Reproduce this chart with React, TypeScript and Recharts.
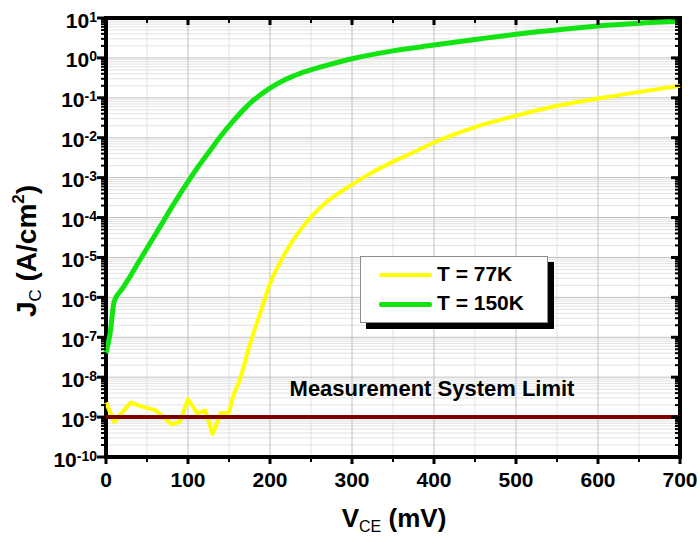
import React from 'react';
import {
  LineChart,
  Line,
  XAxis,
  YAxis,
  CartesianGrid,
  ReferenceLine,
  ReferenceArea,
} from 'recharts';

// collector-emitter voltage (mV) and current density (A/cm^2) at 77 K
const vce77 = [
  0, 10, 30, 45, 60, 80, 90, 100, 111, 121, 130, 140, 150, 154, 163, 176, 188,
  200, 216, 237, 265, 298, 322, 354, 379, 400, 420, 452, 501, 550, 602, 651, 700,
];
const jc77 = [
  2.3e-9, 7.6e-10, 2.3e-9, 1.8e-9, 1.5e-9, 6.6e-10, 7.6e-10, 2.8e-9, 1.26e-9,
  1.45e-9, 3.8e-10, 1.26e-9, 1.26e-9, 2.8e-9, 8.5e-9, 7.1e-8, 4e-7, 2.2e-6,
  1.05e-5, 4.9e-5, 2.1e-4, 6.3e-4, 1.26e-3, 2.75e-3, 4.7e-3, 7.6e-3, 1.12e-2,
  1.9e-2, 3.6e-2, 6.3e-2, 9.8e-2, 0.141, 0.2,
];

// same device at 150 K
const vce150 = [
  0, 5, 10, 20, 30, 40, 50, 60, 70, 80, 90, 100, 110, 127, 140, 155, 170, 180,
  200, 220, 237, 270, 300, 350, 400, 450, 500, 550, 600, 650, 700,
];
const jc150 = [
  4e-8, 1.26e-7, 8e-7, 1.66e-6, 3.5e-6, 7.8e-6, 1.7e-5, 3.7e-5, 8.1e-5, 1.8e-4,
  3.8e-4, 7.9e-4, 1.6e-3, 4.8e-3, 1.1e-2, 2.6e-2, 5.6e-2, 8.7e-2, 0.174, 0.295,
  0.41, 0.66, 0.95, 1.5, 2.1, 2.9, 3.9, 5.0, 6.3, 7.4, 8.3,
];

const systemLimit = 1e-9;

const xTicks = [0, 50, 100, 150, 200, 250, 300, 350, 400, 450, 500, 550, 600, 650, 700];
const decades = [1e-10, 1e-9, 1e-8, 1e-7, 1e-6, 1e-5, 1e-4, 1e-3, 1e-2, 1e-1, 1, 10];
const minorSteps = [2, 3, 4, 5, 6, 7, 8, 9];

const series = [
  { name: 'T = 77K', color: '#ffff00', width: 4, x: vce77, y: jc77 },
  { name: 'T = 150K', color: '#11e411', width: 5, x: vce150, y: jc150 },
];

const toRows = (xs: number[], ys: number[]) => xs.map((v, i) => ({ v, j: ys[i] }));

// the 77 K trace sits in the noise floor up to 150 mV (drawn straight), then rises smoothly
const noiseEnd = vce77.indexOf(150);
const rows77Noise = toRows(vce77.slice(0, noiseEnd + 1), jc77.slice(0, noiseEnd + 1));
const rows77Rise = toRows(vce77.slice(noiseEnd), jc77.slice(noiseEnd));
const rows150 = toRows(vce150, jc150);

const minorValues = decades.slice(0, -1).flatMap((d) => minorSteps.map((m) => m * d));
const yTicks = [...decades, ...minorValues].sort((a, b) => a - b);
const majorX = xTicks.filter((v) => v % 100 === 0);
const minorX = xTicks.filter((v) => v % 100 !== 0);

const PLOT = { left: 106, right: 680, top: 18, bottom: 457 };
const FONT = '"Liberation Sans", Arial, Helvetica, sans-serif';

const isDecade = (v: number) => {
  const l = Math.log10(v);
  return Math.abs(l - Math.round(l)) < 1e-6;
};

const YTick = (props: any) => {
  const { y, payload } = props;
  const v = payload.value;
  const major = isDecade(v);
  const len = major ? 9 : 5;
  const exp = Math.round(Math.log10(v));
  return (
    <g>
      <line x1={PLOT.left - len} x2={PLOT.left} y1={y} y2={y} stroke="#000" strokeWidth={major ? 3 : 2} />
      <line x1={PLOT.right - len} x2={PLOT.right} y1={y} y2={y} stroke="#000" strokeWidth={major ? 3 : 2} />
      {major && (
        <text
          x={97}
          y={y + 9.5}
          textAnchor="end"
          fontFamily={FONT}
          fontWeight="bold"
          fontSize={21}
          fill="#000"
        >
          10
          <tspan dy={-6} fontSize={14}>
            {exp}
          </tspan>
        </text>
      )}
    </g>
  );
};

const XTick = (props: any) => {
  const { x, payload } = props;
  const v = payload.value;
  const major = v % 100 === 0;
  const len = major ? 7 : 5;
  return (
    <g>
      <line x1={x} x2={x} y1={PLOT.bottom} y2={PLOT.bottom + len} stroke="#000" strokeWidth={major ? 3 : 2} />
      <line x1={x} x2={x} y1={PLOT.top} y2={PLOT.top + len} stroke="#000" strokeWidth={major ? 3 : 2} />
      {major && (
        <text
          x={x}
          y={487}
          textAnchor="middle"
          fontFamily={FONT}
          fontWeight="bold"
          fontSize={21}
          fill="#000"
        >
          {v}
        </text>
      )}
    </g>
  );
};

const LimitLabel = (props: any) => {
  const { viewBox } = props;
  return (
    <text
      x={432}
      y={viewBox.y - 21}
      textAnchor="middle"
      fontFamily={FONT}
      fontWeight="bold"
      fontSize={22}
      fill="#000"
    >
      Measurement System Limit
    </text>
  );
};

export default function App() {
  const [s77, s150] = series;
  return (
    <div
      style={{
        position: 'absolute',
        left: 0,
        top: 0,
        width: 700,
        height: 539,
        background: '#fff',
        fontFamily: FONT,
      }}
    >
      <LineChart width={700} height={539} margin={{ top: 18, right: 20, bottom: 52, left: 0 }}>
        <CartesianGrid stroke="#e2e2e2" strokeWidth={1} horizontalValues={minorValues} verticalValues={minorX} />
        <CartesianGrid stroke="#c0c0c0" strokeWidth={1} horizontalValues={decades} verticalValues={majorX} />
        <XAxis
          type="number"
          dataKey="v"
          domain={[0, 700]}
          ticks={xTicks}
          interval={0}
          height={30}
          axisLine={false}
          tickLine={false}
          tick={<XTick />}
        />
        <YAxis
          type="number"
          scale="log"
          domain={[1e-10, 10]}
          allowDataOverflow
          ticks={yTicks}
          interval={0}
          width={106}
          axisLine={false}
          tickLine={false}
          tick={<YTick />}
        />
        <Line
          data={rows77Noise}
          dataKey="j"
          type="linear"
          stroke={s77.color}
          strokeWidth={s77.width}
          strokeLinejoin="round"
          dot={false}
          isAnimationActive={false}
        />
        <Line
          data={rows77Rise}
          dataKey="j"
          type="monotone"
          stroke={s77.color}
          strokeWidth={s77.width}
          strokeLinejoin="round"
          dot={false}
          isAnimationActive={false}
        />
        <Line
          data={rows150}
          dataKey="j"
          type="monotone"
          stroke={s150.color}
          strokeWidth={s150.width}
          strokeLinejoin="round"
          dot={false}
          isAnimationActive={false}
        />
        <ReferenceLine y={systemLimit} stroke="#7d0000" strokeWidth={4} label={<LimitLabel />} />
        <ReferenceArea
          x1={0}
          x2={700}
          y1={1e-10}
          y2={10}
          fill="none"
          stroke="#000"
          strokeWidth={4}
          ifOverflow="visible"
        />
      </LineChart>

      {/* legend box with drop shadow */}
      <div
        style={{
          position: 'absolute',
          left: 360,
          top: 256,
          width: 186,
          height: 65,
          background: '#fff',
          border: '1px solid #8c8c8c',
          boxShadow: '6px 6px 0 #000',
        }}
      >
        {series.map((s, i) => (
          <div key={s.name}>
            <div
              style={{
                position: 'absolute',
                left: 18,
                top: 16 + i * 29,
                width: 53,
                height: s.width,
                borderRadius: 2,
                background: s.color,
              }}
            />
            <div
              style={{
                position: 'absolute',
                left: 76,
                top: 5 + i * 29,
                fontSize: 21,
                lineHeight: '24px',
                fontWeight: 'bold',
                whiteSpace: 'nowrap',
              }}
            >
              {s.name}
            </div>
          </div>
        ))}
      </div>

      {/* y axis title */}
      <div
        style={{
          position: 'absolute',
          left: 27,
          top: 251,
          transform: 'translate(-50%, -50%) rotate(-90deg)',
          fontSize: 28,
          lineHeight: '28px',
          fontWeight: 'bold',
          whiteSpace: 'nowrap',
        }}
      >
        J<span style={{ fontSize: 17, fontWeight: 'normal', verticalAlign: -5 }}>C</span> (A/cm
        <span style={{ fontSize: 17, verticalAlign: 12 }}>2</span>)
      </div>

      {/* x axis title */}
      <div
        style={{
          position: 'absolute',
          left: 394,
          top: 505,
          transform: 'translateX(-50%)',
          fontSize: 26,
          lineHeight: '26px',
          fontWeight: 'bold',
          whiteSpace: 'nowrap',
        }}
      >
        V<span style={{ fontSize: 16, fontWeight: 'normal', verticalAlign: -5 }}>CE</span> (mV)
      </div>
    </div>
  );
}
